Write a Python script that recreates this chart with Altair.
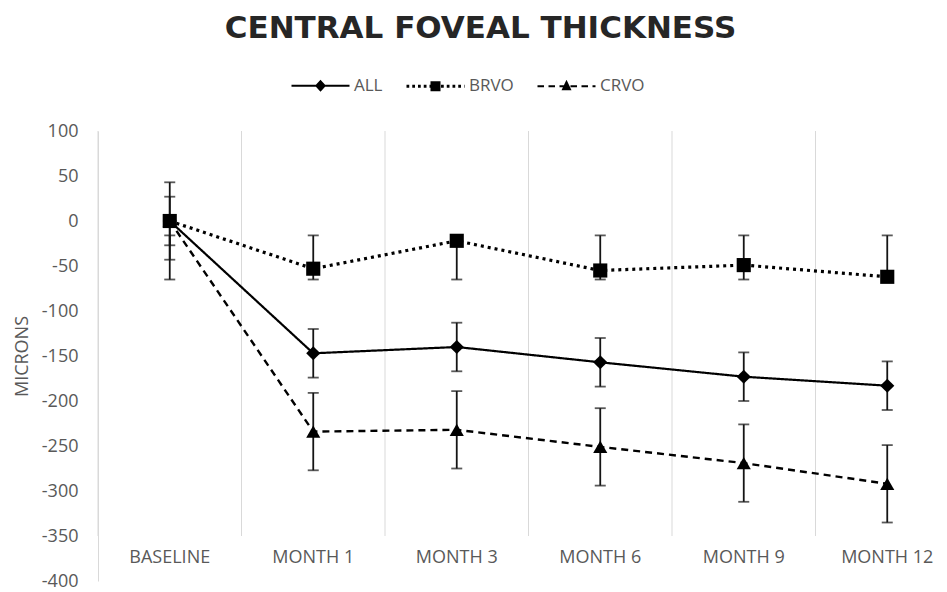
import altair as alt
import pandas as pd

categories = ["BASELINE", "MONTH 1", "MONTH 3", "MONTH 6", "MONTH 9", "MONTH 12"]
series_names = ["ALL", "BRVO", "CRVO"]
all_values = [0, -147, -140, -157, -173, -183]
all_err = [27, 27, 27, 27, 27, 27]
brvo_values = [0, -53, -22, -55, -49, -62]
brvo_upper = [-16, -16, -16, -16, -16, -16]
brvo_lower = [-65, -65, -65, -65, -65, -65]
crvo_values = [0, -234, -232, -251, -269, -292]
crvo_err = [43, 43, 43, 43, 43, 43]
y_ticks = list(range(-400, 101, 50))

rows = []
for i, c in enumerate(categories):
    rows.append(dict(cat=c, series="ALL", value=all_values[i],
                     lo=all_values[i] - all_err[i], hi=all_values[i] + all_err[i]))
    rows.append(dict(cat=c, series="BRVO", value=brvo_values[i],
                     lo=brvo_lower[i], hi=brvo_upper[i]))
    rows.append(dict(cat=c, series="CRVO", value=crvo_values[i],
                     lo=crvo_values[i] - crvo_err[i], hi=crvo_values[i] + crvo_err[i]))
df = pd.DataFrame(rows)
grid_df = pd.DataFrame({"cat": categories})

TEXT = "#595959"
FONT = "Open Sans"

xscale = alt.Scale(domain=categories, range=[0, 861], paddingInner=0, paddingOuter=0)
xaxis = alt.Axis(title=None, labelAngle=0, ticks=False, domain=False, grid=False,
                 labelFont=FONT, labelFontSize=18, labelColor=TEXT,
                 offset=-37, labelPadding=4, labelBaseline="top")
yscale = alt.Scale(domain=[-400, 100], nice=False, zero=False)
yaxis = alt.Axis(title="MICRONS", values=y_ticks, grid=False, ticks=False,
                 domain=True, domainColor="#d9d9d9", domainWidth=1,
                 labelExpr="'' + datum.value",
                 labelFont=FONT, labelFontSize=18, labelColor=TEXT, labelPadding=20,
                 titleFont=FONT, titleFontSize=18, titleFontWeight="normal",
                 titleColor=TEXT, titleX=-71, titleBaseline="alphabetic")

X = alt.X("cat:N", sort=categories, scale=xscale, axis=xaxis)
Y = alt.Y("value:Q", scale=yscale, axis=yaxis)

base = alt.Chart(df)

gridlines = alt.Chart(grid_df).mark_rule(color="#d9d9d9", strokeWidth=1).encode(
    x=alt.X("cat:N", sort=categories, scale=xscale, axis=xaxis, bandPosition=0),
    y=alt.YDatum(100, scale=yscale, axis=yaxis, title="MICRONS"),
    y2=alt.Y2Datum(-350),
)

err_rules = base.mark_rule(color="#141414", strokeWidth=1.8).encode(
    x=X, y=alt.Y("lo:Q", scale=yscale, axis=yaxis, title="MICRONS"), y2="hi:Q")
err_lo = base.mark_tick(color="#141414", size=11, thickness=1.8).encode(
    x=X, y=alt.Y("lo:Q", scale=yscale, axis=yaxis, title="MICRONS"))
err_hi = base.mark_tick(color="#141414", size=11, thickness=1.8).encode(
    x=X, y=alt.Y("hi:Q", scale=yscale, axis=yaxis, title="MICRONS"))

lines = base.mark_line(color="black").encode(
    x=X, y=Y,
    detail="series:N",
    strokeDash=alt.StrokeDash("series:N",
                              scale=alt.Scale(domain=series_names,
                                              range=[[1, 0], [3, 4], [7, 5]]),
                              legend=None),
    strokeWidth=alt.StrokeWidth("series:O",
                                scale=alt.Scale(type="ordinal", domain=series_names,
                                                range=[2.2, 3.2, 2.4]),
                                legend=None),
)

points = base.mark_point(filled=True, color="black", opacity=1, size=200).encode(
    x=X, y=Y,
    shape=alt.Shape("series:N",
                    scale=alt.Scale(domain=series_names,
                                    range=["diamond", "square", "triangle-up"]),
                    legend=None),
)

# legend symbols: line sample (thin filled bars) with a marker,
# in units of sqrt(size)/2 px
def seg_path(x0, x1, dash, gap, half):
    parts = []
    x = x0
    while x < x1 - 1e-9:
        e = min(x + dash, x1)
        parts.append(f"M{x:.2f},{-half}L{e:.2f},{-half}L{e:.2f},{half}L{x:.2f},{half}Z")
        x = e + gap
    return "".join(parts)

cx = 4.8
legend_paths = [
    seg_path(-1, 10.6, 11.6, 0, 0.2) + f"M{cx},-1.2L{cx+1.1},0L{cx},1.2L{cx-1.1},0Z",
    seg_path(-1, 10.6, 0.55, 0.6, 0.28) + f"M{cx-1},-1L{cx+1},-1L{cx+1},1L{cx-1},1Z",
    seg_path(-1, 10.6, 1.3, 0.9, 0.2) + f"M{cx},-1.3L{cx+1},0.8L{cx-1},0.8Z",
]

legend_layer = base.transform_filter("false").mark_point(
    filled=True, color="black", opacity=1, size=100
).encode(
    shape=alt.Shape("series:N",
                    scale=alt.Scale(domain=series_names, range=legend_paths),
                    legend=alt.Legend(
                        title=None, orient="none", legendX=190, legendY=-54,
                        direction="horizontal", symbolSize=100,
                        symbolFillColor="black", symbolOpacity=1,
                        labelFont=FONT, labelFontSize=17, labelColor=TEXT,
                        labelOffset=49, columnPadding=20,
                    )),
)

chart = alt.layer(gridlines, err_rules, err_lo, err_hi, lines, points, legend_layer).resolve_scale(
    shape="independent"
).properties(
    width=833, height=450,
    title=alt.TitleParams("CENTRAL FOVEAL THICKNESS", font="DejaVu Sans", fontSize=31,
                          fontWeight="bold", color="#262626", anchor="middle",
                          dx=-34, offset=32),
    autosize=alt.AutoSizeParams(type="none"),
    padding={"left": 90, "top": 123, "right": 8, "bottom": 12},
).configure_view(stroke=None)

chart.save("out.html", embed_options={"renderer": "svg", "actions": False})
